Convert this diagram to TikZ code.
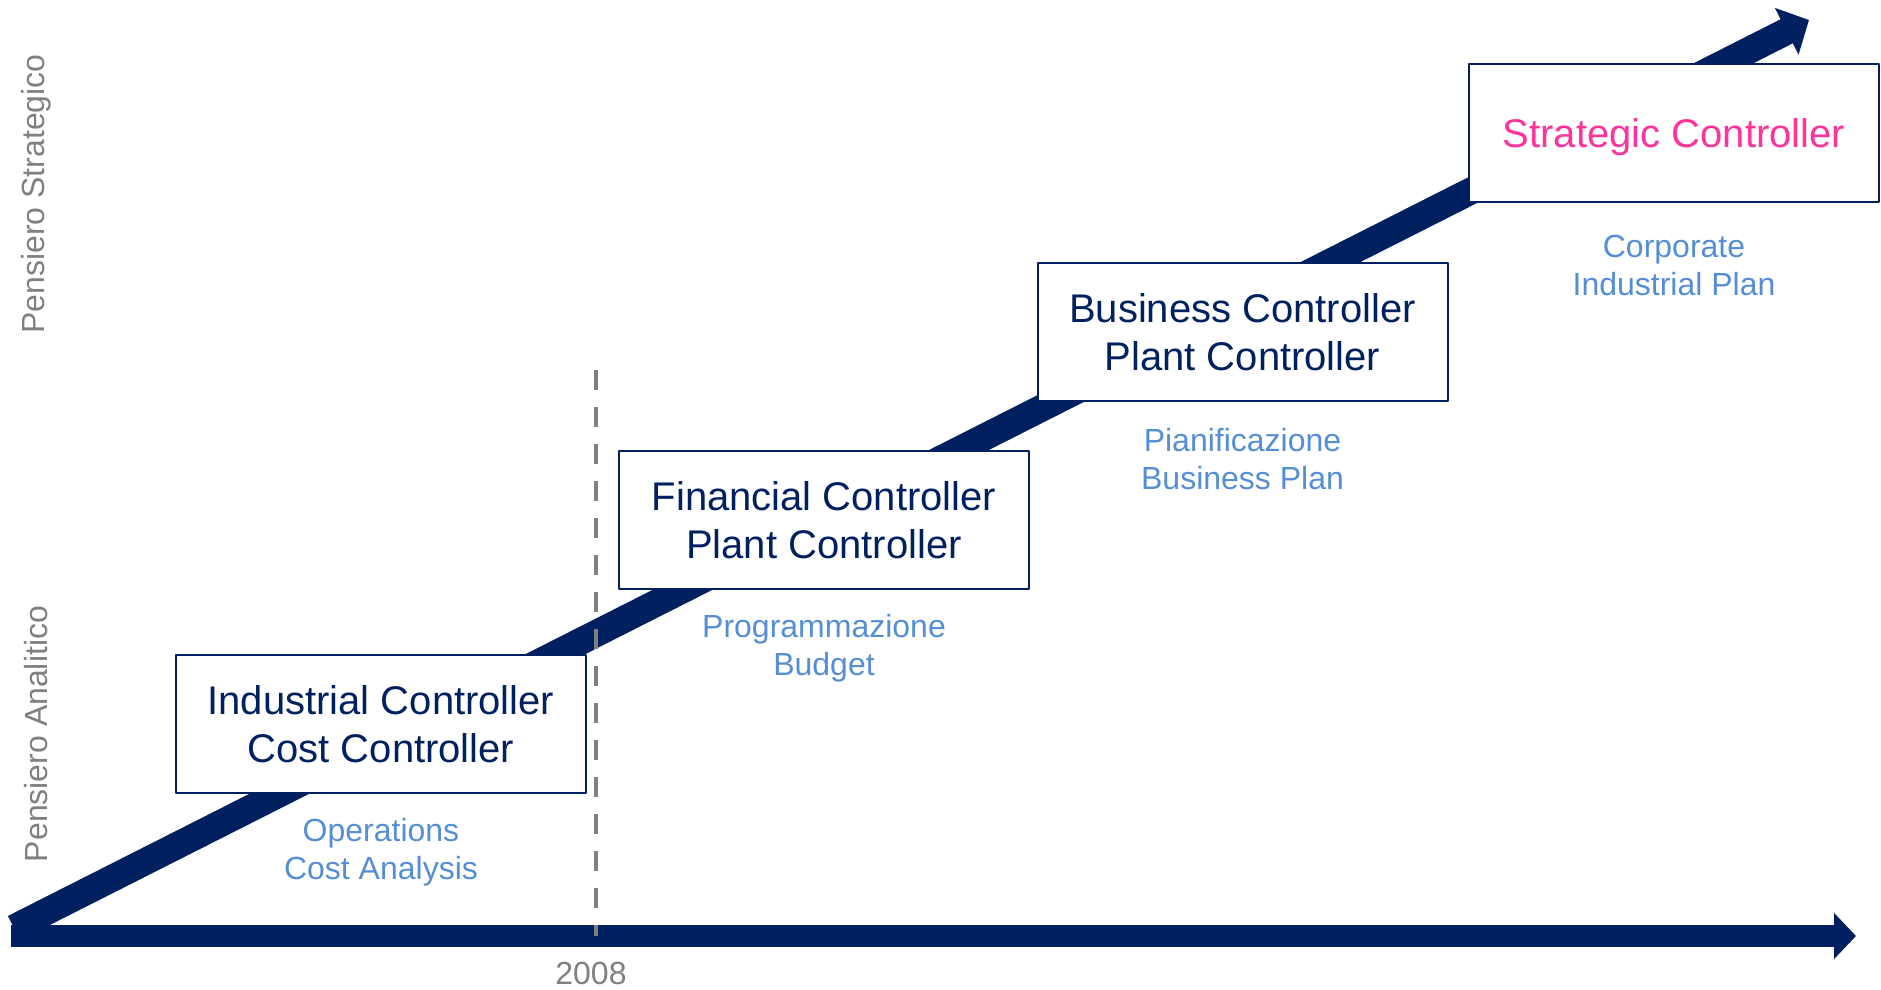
\documentclass[tikz,border=0pt]{standalone}
\usepackage{fontspec}
\setmainfont{Liberation Sans}
\usetikzlibrary{arrows.meta}
\definecolor{navy}{HTML}{002060}
\definecolor{skyblue}{HTML}{558ED5}
\definecolor{rolepink}{HTML}{FF3399}
\definecolor{midgrey}{HTML}{808080}
\begin{document}
\begin{tikzpicture}[x=0.5pt,y=-0.5pt,line join=bevel,
  rolebox/.style={draw=navy,line width=1pt,fill=white,minimum width=205pt,minimum height=69pt,inner sep=0pt,align=center,text=navy,font=\fontsize{20}{24}\selectfont},
  task/.style={align=center,text=skyblue,font=\fontsize{16}{19}\selectfont},
  side/.style={text=midgrey,font=\fontsize{16}{19}\selectfont}]
\useasboundingbox (0,0) rectangle (1881,990);
%%
\coordinate (origin) at (14,928);
\coordinate (growth_tip) at (1809,20);
\coordinate (axis_start) at (11,936);
\coordinate (axis_tip) at (1856,936);
\coordinate (cut_top) at (596,370);
\coordinate (cut_bottom) at (596,936);
%
\draw [navy,line width=13.5pt,-{Triangle[length=12.5pt,width=25.5pt]}] (origin) -- (growth_tip);
\draw [navy,line width=11pt,-{Triangle[length=11pt,width=22.5pt]}] (axis_start) -- (axis_tip);
%
\node (box_1) at (381,724) [rolebox] {Industrial Controller\\Cost Controller};
\node (box_2) at (824,520) [rolebox] {Financial Controller\\Plant Controller};
\node (box_3) at (1242.5,332) [rolebox] {Business Controller\\Plant Controller};
\node (box_4) at (1674,133) [rolebox,text=rolepink,text depth=0pt] {Strategic Controller};
%
\draw [midgrey,line width=2pt,dash pattern=on 10pt off 8.5pt] (cut_top) -- (cut_bottom);
%
\node (task_1) at (381,852) [task] {Operations\\Cost Analysis};
\node (task_2) at (824,648) [task] {Programmazione\\Budget};
\node (task_3) at (1242.5,459) [task] {Pianificazione\\Business Plan};
\node (task_4) at (1674,265) [task] {Corporate\\Industrial Plan};
%
\node (side_top) at (36,194) [side,rotate=90] {Pensiero Strategico};
\node (side_bottom) at (36,734) [side,rotate=90] {Pensiero Analitico};
\node (year) at (591,973) [side] {2008};
%
\end{tikzpicture}
\end{document}
